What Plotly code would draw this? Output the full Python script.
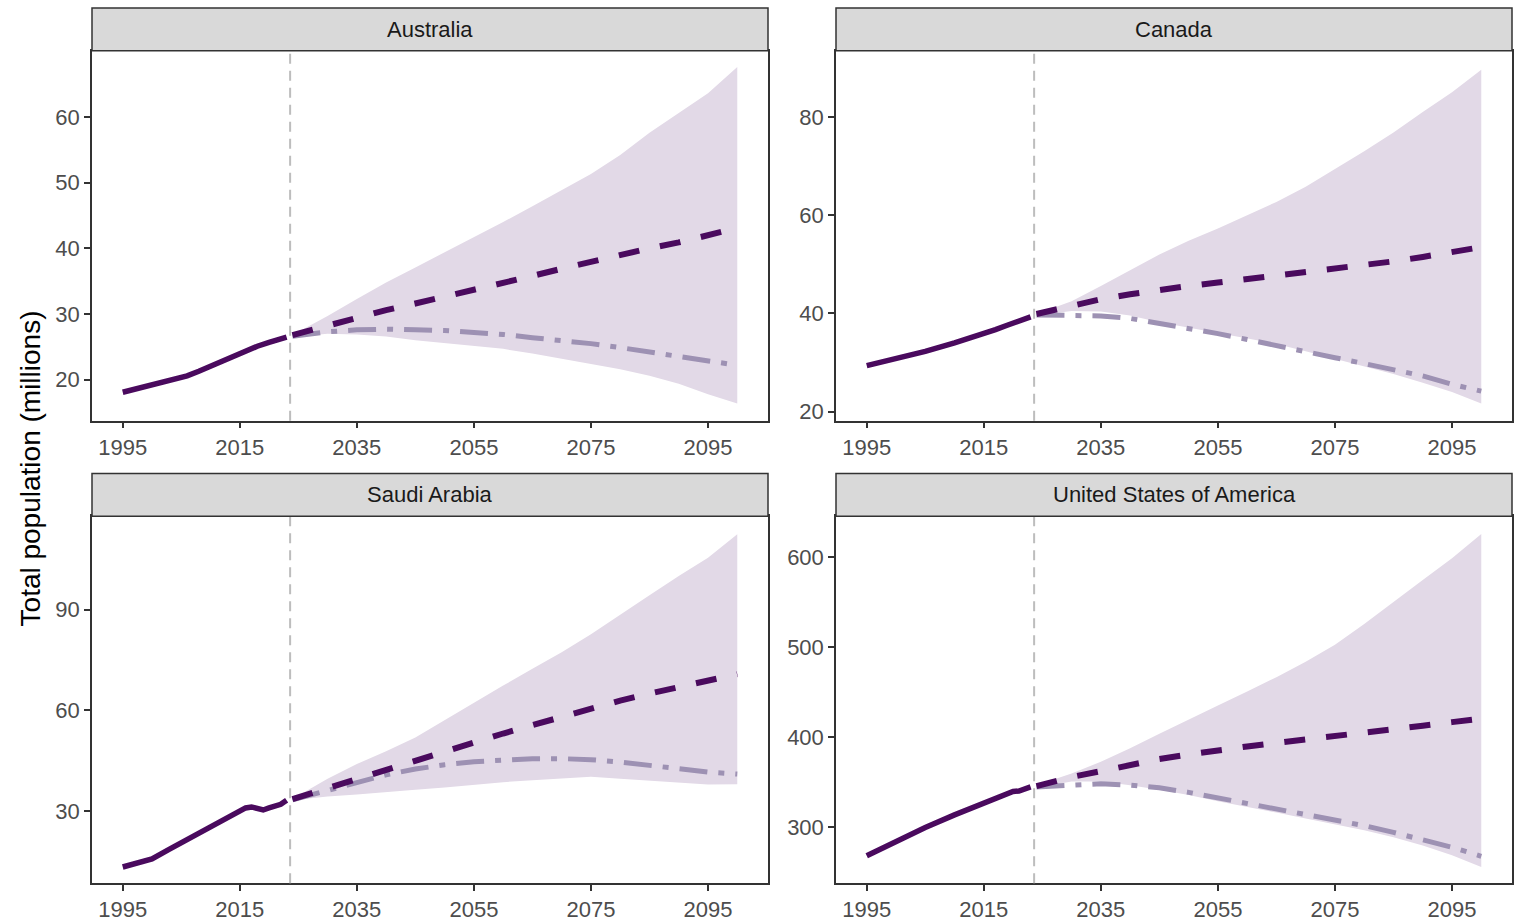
import plotly.graph_objects as go

# ---------------- data ----------------
countries = ["Australia", "Canada", "Saudi Arabia", "United States of America"]

# historical (observed) population, millions
aus_hist_years = [1995, 1998, 2000, 2003, 2006, 2008, 2010, 2012, 2014, 2016, 2018, 2020, 2022, 2023]
aus_hist_vals = [18.1, 18.8, 19.3, 19.9, 20.6, 21.3, 22.1, 22.8, 23.5, 24.3, 25.1, 25.7, 26.1, 26.5]

can_hist_years = [1995, 2000, 2005, 2010, 2015, 2017, 2019, 2021, 2023]
can_hist_vals = [29.4, 30.8, 32.3, 34.0, 35.8, 36.7, 37.6, 38.4, 39.3]

sau_hist_years = [1995, 1997, 2000, 2003, 2006, 2009, 2012, 2015, 2016, 2017, 2018, 2019, 2020, 2021, 2022, 2023]
sau_hist_vals = [13.3, 14.3, 15.7, 18.6, 21.4, 24.3, 27.1, 30.0, 30.9, 31.2, 30.6, 30.3, 30.9, 31.4, 32.0, 33.2]

usa_hist_years = [1995, 2000, 2005, 2010, 2015, 2017, 2019, 2020, 2021, 2022, 2023]
usa_hist_vals = [268.5, 285.0, 300.0, 314.0, 326.5, 332.0, 338.0, 340.0, 340.5, 342.0, 345.0]

# forecast years (common to every forecast series)
fc_years = [2024, 2030, 2035, 2040, 2045, 2050, 2055, 2060, 2065, 2070, 2075, 2080, 2085, 2090, 2095, 2100]

aus_median = [26.8, 28.3, 29.5, 30.6, 31.6, 32.6, 33.6, 34.7, 35.8, 36.9, 38.0, 39.0, 40.0, 40.9, 41.9, 43.1]
aus_low = [26.6, 27.3, 27.6, 27.7, 27.6, 27.5, 27.2, 26.9, 26.4, 26.0, 25.5, 24.9, 24.2, 23.6, 22.9, 22.2]
aus_upper = [26.8, 29.7, 32.3, 34.8, 37.1, 39.4, 41.6, 44.0, 46.4, 48.9, 51.3, 54.2, 57.6, 60.6, 63.6, 67.6]
aus_lower = [26.5, 27.0, 26.9, 26.6, 26.0, 25.6, 25.2, 24.7, 24.0, 23.2, 22.4, 21.6, 20.6, 19.4, 17.8, 16.4]

can_median = [39.9, 41.6, 42.9, 43.9, 44.9, 45.6, 46.3, 47.0, 47.7, 48.3, 49.0, 49.8, 50.6, 51.5, 52.4, 53.5]
can_low = [39.7, 39.6, 39.5, 39.0, 38.0, 36.9, 35.9, 34.7, 33.4, 32.2, 31.0, 29.8, 28.6, 27.3, 25.6, 24.2]
can_upper = [39.9, 42.5, 45.6, 48.8, 52.0, 54.8, 57.3, 60.0, 62.7, 65.8, 69.4, 73.0, 76.8, 81.0, 85.0, 89.6]
can_lower = [39.6, 40.5, 40.4, 39.6, 38.2, 37.1, 36.1, 35.0, 33.8, 32.3, 30.8, 29.2, 27.7, 25.9, 24.0, 21.7]

sau_median = [33.5, 36.8, 39.8, 42.5, 45.3, 48.0, 50.6, 53.1, 55.6, 58.1, 60.5, 62.9, 65.0, 67.0, 68.9, 70.8]
sau_low = [33.3, 36.0, 38.6, 40.8, 42.5, 43.8, 44.7, 45.3, 45.6, 45.6, 45.3, 44.6, 43.6, 42.6, 41.6, 41.0]
sau_upper = [33.6, 39.6, 44.0, 47.8, 51.9, 57.1, 62.3, 67.4, 72.4, 77.3, 82.7, 88.4, 94.3, 100.1, 105.5, 112.5]
sau_lower = [33.2, 34.3, 34.9, 35.5, 36.3, 37.0, 37.9, 38.6, 39.2, 39.7, 40.2, 39.6, 39.0, 38.3, 37.9, 38.0]

usa_median = [346.0, 356.0, 362.5, 370.0, 376.0, 381.0, 386.0, 390.0, 394.0, 397.5, 401.0, 405.0, 409.0, 413.0, 417.0, 421.0]
usa_low = [345.0, 347.5, 348.5, 347.0, 344.0, 339.0, 333.0, 326.5, 320.0, 314.5, 309.0, 302.0, 294.5, 286.5, 278.0, 268.0]
usa_upper = [347.0, 360.0, 373.0, 388.0, 404.0, 420.0, 435.6, 451.0, 467.0, 484.0, 503.0, 526.0, 551.0, 575.0, 599.0, 626.0]
usa_lower = [344.0, 351.0, 351.0, 347.0, 342.0, 336.0, 329.0, 323.0, 316.5, 310.0, 303.7, 297.0, 289.0, 280.0, 269.0, 256.0]

forecast_start = 2023.6
x_ticks = [1995, 2015, 2035, 2055, 2075, 2095]

aus_y_ticks = [20, 30, 40, 50, 60]
can_y_ticks = [20, 40, 60, 80]
sau_y_ticks = [30, 60, 90]
usa_y_ticks = [300, 400, 500, 600]

aus_y_range = [13.77, 70.07]
can_y_range = [18.18, 93.46]
sau_y_range = [8.47, 117.9]
usa_y_range = [238.1, 645.8]
x_range = [1989.75, 2105.25]

panels = [
    dict(name=countries[0], hy=aus_hist_years, hv=aus_hist_vals, med=aus_median, low=aus_low,
         up=aus_upper, lo=aus_lower, yt=aus_y_ticks, yr=aus_y_range),
    dict(name=countries[1], hy=can_hist_years, hv=can_hist_vals, med=can_median, low=can_low,
         up=can_upper, lo=can_lower, yt=can_y_ticks, yr=can_y_range),
    dict(name=countries[2], hy=sau_hist_years, hv=sau_hist_vals, med=sau_median, low=sau_low,
         up=sau_upper, lo=sau_lower, yt=sau_y_ticks, yr=sau_y_range),
    dict(name=countries[3], hy=usa_hist_years, hv=usa_hist_vals, med=usa_median, low=usa_low,
         up=usa_upper, lo=usa_lower, yt=usa_y_ticks, yr=usa_y_range),
]

# ---------------- styling / layout ----------------
W, H = 1519, 922
DARK = "#4a0a5e"
LIGHT_LINE = "#9d91b3"
RIBBON = "#e2d9e7"
BORDER = "#333333"
FONT = "Liberation Sans, Arial, sans-serif"

col_px = [(92, 768), (836, 1512)]
row_px = [(51, 423), (519, 888)]
strip_h = 43

fig = go.Figure()
shapes = []
annotations = []

for i, p in enumerate(panels):
    r, c = divmod(i, 2)
    n = i + 1
    xa = "x" if n == 1 else f"x{n}"
    ya = "y" if n == 1 else f"y{n}"
    x0, x1 = col_px[c]
    y0, y1 = row_px[r]
    xdom = [x0 / W, x1 / W]
    ydom = [1 - y1 / H, 1 - y0 / H]

    # ribbon
    fig.add_trace(go.Scatter(x=fc_years, y=p["lo"], mode="lines", line=dict(width=0, color=RIBBON),
                             xaxis=xa, yaxis=ya, showlegend=False, hoverinfo="skip"))
    fig.add_trace(go.Scatter(x=fc_years, y=p["up"], mode="lines", line=dict(width=0, color=RIBBON),
                             fill="tonexty", fillcolor=RIBBON, xaxis=xa, yaxis=ya,
                             showlegend=False, hoverinfo="skip"))
    # low scenario (dot-dash)
    fig.add_trace(go.Scatter(x=fc_years, y=p["low"], mode="lines",
                             line=dict(color=LIGHT_LINE, width=5, dash="28px,11px,6px,11px"),
                             xaxis=xa, yaxis=ya, showlegend=False))
    # median (dashed)
    fig.add_trace(go.Scatter(x=fc_years, y=p["med"], mode="lines",
                             line=dict(color=DARK, width=6, dash="21px,21px"),
                             xaxis=xa, yaxis=ya, showlegend=False))
    # historical (solid)
    fig.add_trace(go.Scatter(x=p["hy"], y=p["hv"], mode="lines",
                             line=dict(color=DARK, width=5.5),
                             xaxis=xa, yaxis=ya, showlegend=False))

    axis_common = dict(showgrid=False, zeroline=False, showline=True, mirror=True,
                       linecolor=BORDER, linewidth=1.5, ticks="outside", ticklen=6,
                       tickwidth=1.5, tickcolor=BORDER,
                       tickfont=dict(family=FONT, size=22, color="#4d4d4d"))
    fig.update_layout(**{
        ("xaxis" if n == 1 else f"xaxis{n}"): dict(domain=xdom, range=x_range, anchor=ya,
                                                   tickvals=x_ticks, **axis_common),
        ("yaxis" if n == 1 else f"yaxis{n}"): dict(domain=ydom, range=p["yr"], anchor=xa,
                                                   tickvals=p["yt"], **axis_common),
    })

    # vertical forecast-start line
    shapes.append(dict(type="line", xref=xa, yref=f"{ya} domain", x0=forecast_start, x1=forecast_start,
                       y0=0, y1=1, line=dict(color="#bdbdbd", width=2, dash="10px,7px"), layer="above"))
    # strip
    shapes.append(dict(type="rect", xref="paper", yref="paper", x0=x0 / W, x1=x1 / W,
                       y0=1 - y0 / H, y1=1 - (y0 - strip_h) / H,
                       fillcolor="#d9d9d9", line=dict(color=BORDER, width=1.5)))
    annotations.append(dict(text=p["name"], xref="paper", yref="paper", x=(x0 + x1) / 2 / W,
                            y=1 - (y0 - strip_h / 2) / H, showarrow=False, xanchor="center",
                            yanchor="middle", font=dict(family=FONT, size=22, color="#1a1a1a")))

annotations.append(dict(text="Total population (millions)", xref="paper", yref="paper",
                        x=30 / W, y=1 - 471 / H, textangle=-90, showarrow=False,
                        xanchor="center", yanchor="middle",
                        font=dict(family=FONT, size=28, color="#000000")))

fig.update_layout(width=W, height=H, margin=dict(l=0, r=0, t=0, b=0),
                  paper_bgcolor="white", plot_bgcolor="white",
                  shapes=shapes, annotations=annotations, showlegend=False)

fig.write_html("out.html")
